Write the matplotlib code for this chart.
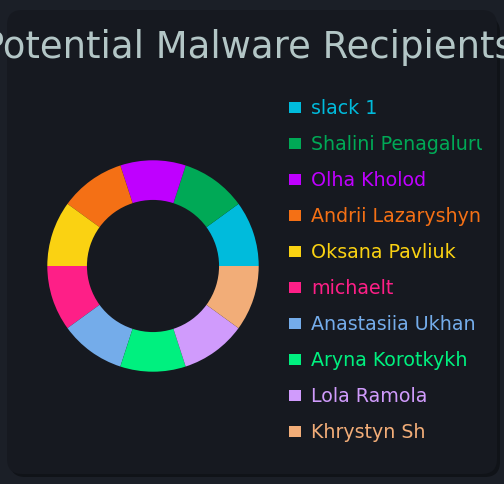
import matplotlib
matplotlib.use("Agg")
import matplotlib.pyplot as plt
from matplotlib.patches import FancyBboxPatch, Rectangle

labels = ["slack 1", "Shalini Penagaluru", "Olha Kholod", "Andrii Lazaryshyn",
          "Oksana Pavliuk", "michaelt", "Anastasiia Ukhan", "Aryna Korotkykh",
          "Lola Ramola", "Khrystyn Sh"]
values = [1, 1, 1, 1, 1, 1, 1, 1, 1, 1]
colors = ["#00bbdc", "#00a956", "#bf00ff", "#f47015", "#fad212",
          "#fe1f87", "#74acea", "#00f07f", "#d09bfc", "#f2ad78"]
title = "Potential Malware Recipients"

W, H = 504, 485
fig = plt.figure(figsize=(W / 100, H / 100), dpi=100)
fig.patch.set_facecolor("#1b1f27")

def fx(px):
    return px / W

def fy(py):
    return 1 - py / H

# shadow + card
shadow = FancyBboxPatch((fx(10), fy(478)), fx(490), (474 - 14) / H,
                        boxstyle="round,pad=0,rounding_size=0.03",
                        transform=fig.transFigure, facecolor="#101318",
                        edgecolor="none", zorder=-3, mutation_aspect=W / H)
fig.patches.append(shadow)
card = FancyBboxPatch((fx(7), fy(475)), fx(490), (475 - 11) / H,
                      boxstyle="round,pad=0,rounding_size=0.03",
                      transform=fig.transFigure, facecolor="#161920",
                      edgecolor="none", zorder=-2, mutation_aspect=W / H)
fig.patches.append(card)

t = fig.text(fx(248), fy(58), title, ha="center", va="baseline",
             fontsize=26.6, color="#b3c6c6", family="DejaVu Sans", zorder=5)
t.set_clip_path(card)

# donut
cx, cy, r = 153, 267, 105.7
ax = fig.add_axes([fx(cx - r), fy(cy + r), 2 * r / W, 2 * r / H])
ax.set_facecolor("none")
ax.pie(values, colors=colors, startangle=0, counterclock=True,
       wedgeprops=dict(width=0.375, linewidth=0))
ax.set_xlim(-1, 1)
ax.set_ylim(-1, 1)
ax.set_aspect("equal")
ax.axis("off")

# legend
clip = Rectangle((0, 0), fx(482), 1, transform=fig.transFigure, visible=False)
fig.patches.append(clip)
y0, dy = 114, 36
for i, (lab, col) in enumerate(zip(labels, colors)):
    y = y0 + i * dy
    sq = Rectangle((fx(289), fy(y)), 12 / W, 11.5 / H, transform=fig.transFigure,
                   facecolor=col, edgecolor="none", zorder=5)
    fig.patches.append(sq)
    tx = fig.text(fx(311), fy(y), lab, ha="left", va="baseline", fontsize=13.7,
                  color=col, family="DejaVu Sans", zorder=5)
    tx.set_clip_path(clip)

fig.savefig("out.png", dpi=100, facecolor=fig.get_facecolor())
